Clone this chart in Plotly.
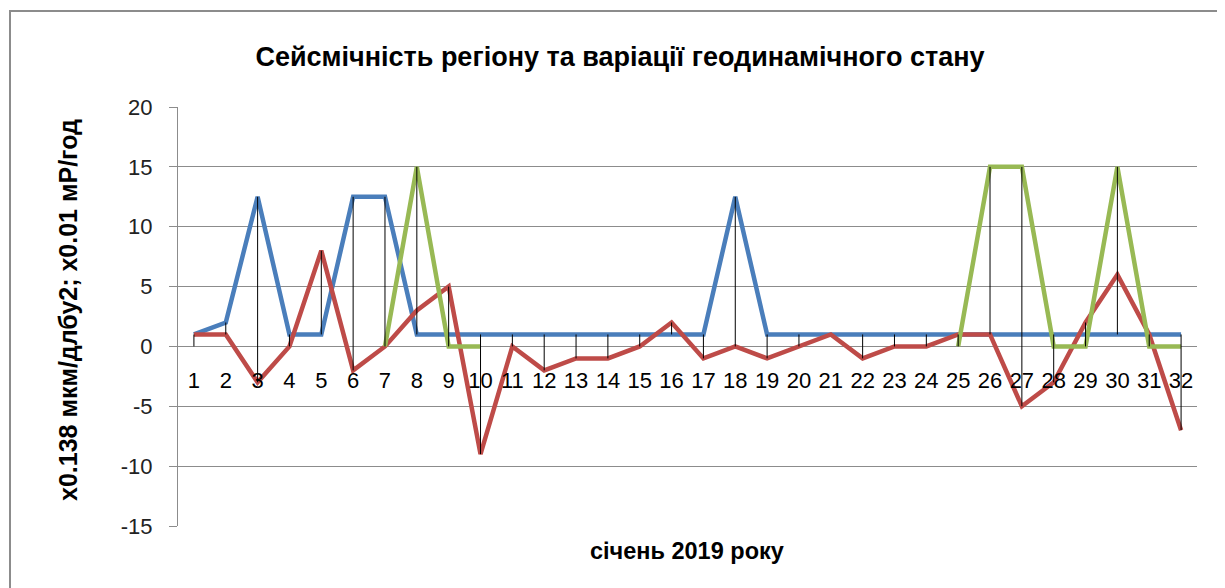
import plotly.graph_objects as go

days = list(range(1, 33))
tick_labels = [str(d) for d in days]
y_ticks = [-15, -10, -5, 0, 5, 10, 15, 20]
y_tick_labels = ["-15", "-10", "-5", "0", "5", "10", "15", "20"]

blue = [1, 2, 12.5, 1, 1, 12.5, 12.5, 1, 1, 1, 1, 1, 1, 1, 1, 1, 1, 12.5, 1, 1, 1, 1, 1, 1, 1, 1, 1, 1, 1, 1, 1, 1]
red = [1, 1, -3, 0, 8, -2, 0, 3, 5, -9, 0, -2, -1, -1, 0, 2, -1, 0, -1, 0, 1, -1, 0, 0, 1, 1, -5, -3, 2, 6, 1, -7]
green = [0, None, None, None, None, None, 0, 15, 0, 0, None, None, None, None, None, None,
         None, None, None, None, None, None, None, None, 0, 15, 15, 0, 0, 15, 0, 0]

title = "Сейсмічність регіону та варіації геодинамічного стану"
y_title = "x0.138 мкм/длбу2; x0.01 мР/год"
x_title = "січень 2019 року"

W, H = 1225, 588
L, T = 170, 99
pw, ph = 1019, 419
R, B = W - L - pw, H - T - ph
bottom = H - B  # figure y of plot bottom

fig = go.Figure()

# high-low lines computed from the series
hx, hy = [], []
for i, d in enumerate(days):
    vals = [s[i] for s in (blue, red, green) if s[i] is not None]
    hx += [d, d, None]
    hy += [max(vals), min(vals), None]

fig.add_trace(go.Scatter(x=days, y=blue, mode="lines", line=dict(color="#4A7EBB", width=4.5), showlegend=False))
fig.add_trace(go.Scatter(x=days, y=red, mode="lines", line=dict(color="#BE4B48", width=4.5), showlegend=False))
fig.add_trace(go.Scatter(x=days, y=green, mode="lines", line=dict(color="#98B954", width=4.5), showlegend=False, connectgaps=False))
fig.add_trace(go.Scatter(x=hx, y=hy, mode="lines", line=dict(color="black", width=1), showlegend=False, hoverinfo="skip"))

ymin, ymax = -15, 20
zero_pos = (0 - ymin) / (ymax - ymin)

fig.update_layout(
    width=W, height=H,
    margin=dict(l=L, r=R, t=T, b=B, autoexpand=False),
    paper_bgcolor="white", plot_bgcolor="white",
    font=dict(family="Liberation Sans", color="black"),
    title=dict(text="<b>" + title + "</b>", x=612 / W, xref="container", xanchor="center",
               y=1 - 49 / H, yref="container", yanchor="middle",
               font=dict(size=27, family="Liberation Sans", color="black")),
    xaxis=dict(range=[0.5, 32.5], tickmode="array", tickvals=days, ticktext=tick_labels,
               showgrid=False, zeroline=False, showline=False,
               anchor="free", position=zero_pos,
               ticks="outside", ticklen=14, tickcolor="rgba(0,0,0,0)",
               tickfont=dict(size=22, color="black")),
    yaxis=dict(range=[ymin, ymax], tickmode="array", tickvals=y_ticks, ticktext=y_tick_labels,
               showgrid=True, gridcolor="#8C8C8C", gridwidth=1, zeroline=False,
               showline=True, linecolor="#8C8C8C", linewidth=1,
               ticks="outside", ticklen=8, tickcolor="#8C8C8C",
               ticklabelstandoff=12,
               tickfont=dict(size=22, color="#222222")),
    annotations=[
        dict(text="<b>" + y_title + "</b>", xref="paper", yref="paper",
             x=(60 - L) / pw, y=(bottom - 302) / ph, textangle=-90, showarrow=False,
             xanchor="center", yanchor="middle", font=dict(size=25, color="black")),
        dict(text="<b>" + x_title + "</b>", xref="paper", yref="paper",
             x=(679 - L) / pw, y=(bottom - 543) / ph, showarrow=False,
             xanchor="center", yanchor="middle", font=dict(size=23.5, color="black")),
    ],
    shapes=[
        dict(type="rect", xref="paper", yref="paper",
             x0=(2 - L) / pw, x1=(1250 - L) / pw,
             y0=(bottom - 620) / ph, y1=(bottom - 3) / ph,
             line=dict(color="#8C8C8C", width=2), fillcolor="rgba(0,0,0,0)", layer="below"),
    ],
)

fig.write_html("out.html")
